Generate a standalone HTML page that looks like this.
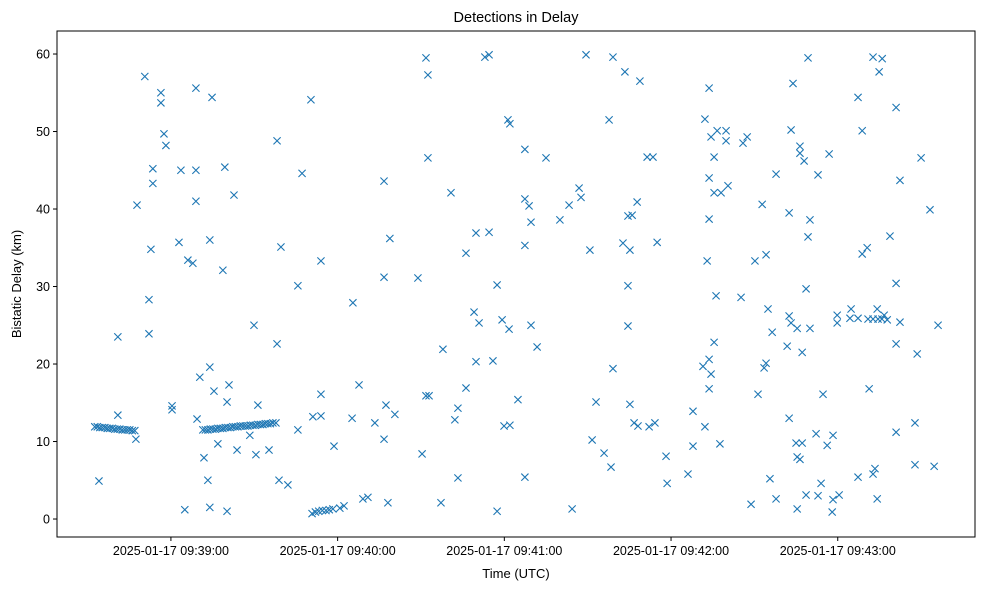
<!DOCTYPE html>
<html><head><meta charset="utf-8"><style>
body{margin:0;background:#fff;}
svg{display:block;font-family:"Liberation Sans","DejaVu Sans",sans-serif;}
</style></head><body>
<svg id="chart" width="990" height="590" xmlns="http://www.w3.org/2000/svg"></svg>
<script>
// seconds relative to 2025-01-17 09:39:00 UTC
const times = [
-27.4,-26.5,-25.6,-24.7,-23.8,-22.9,-22,-21.1,-20.2,-19.3,-18.4,-17.5,-16.6,-15.7,-14.8,-13.9,-13,
11.5,12.4,13.3,14.2,15.1,16,16.9,17.8,18.7,19.6,20.5,21.4,22.3,23.2,24.1,25,25.9,26.8,27.7,28.6,29.5,30.4,31.3,32.2,33.1,34,34.9,35.8,36.7,37.8,
50.8,52,53.2,54.5,55.8,57,58.3,60.8,
-9.4,-3.6,-3.6,9.0,14.8,-2.5,-1.8,-6.5,3.6,9.0,19.4,-6.5,22.7,9.0,-12.2,2.9,14.0,-7.2,6.1,7.9,18.7,-7.9,-19.1,-7.9,14.0,10.4,15.5,20.9,20.2,0.4,0.4,-19.1,9.4,-12.6,16.9,11.9,23.8,-25.9,13.3,5.0,14.0,20.2,
50.4,38.2,47.2,76.7,78.8,39.6,54.0,76.7,45.7,65.5,29.9,38.2,67.7,54.0,31.3,77.4,80.6,51.1,54.0,65.2,73.4,45.7,28.4,30.6,35.3,58.7,76.7,38.9,42.1,69.1,70.9,78.1,62.3,
91.8,113.0,114.5,92.5,121.3,122.0,127.4,135.0,92.5,100.8,127.4,128.9,143.3,129.6,140.0,109.8,114.5,127.4,106.2,88.9,117.4,109.1,110.9,119.2,121.7,129.6,97.9,131.8,109.8,115.9,106.2,124.9,91.8,92.9,103.3,102.2,119.9,122.0,90.4,103.3,127.4,97.2,117.4,144.4,
149.4,159.1,163.4,168.8,157.7,171.4,173.5,146.9,147.6,167.8,164.5,166.0,150.8,162.7,165.2,175.0,164.5,164.5,159.1,153.0,165.2,166.7,168.1,172.1,174.2,151.6,155.9,158.4,178.2,178.6,186.1,187.9,187.9,192.2,197.6,
193.7,192.2,194.4,196.6,199.8,199.8,195.5,193.7,195.5,198.0,200.5,193.7,193.0,196.2,195.5,193.7,191.5,194.4,193.7,
229.3,223.9,223.2,207.4,205.9,226.4,226.4,227.9,236.9,217.8,232.9,212.8,222.5,230.0,229.3,214.2,210.2,228.6,205.2,214.9,222.5,223.2,225.4,230.0,239.8,239.8,244.8,216.4,221.8,227.2,214.2,213.5,211.3,234.7,222.5,232.2,238.3,225.0,227.2,236.2,225.4,226.4,215.6,234.0,208.8,217.8,228.6,232.9,238.3,240.5,225.4,238.0,
252.7,256.0,254.9,247.3,261.0,248.8,270.0,262.4,273.2,258.8,250.6,248.8,261.0,254.2,
244.4,247.3,250.9,252.7,254.5,255.9,256.7,257.8,262.4,276.1,261.0,268.6,251.3,261.0,267.8,267.8,274.7,247.3,253.4,252.7,254.2
];
const delaysKm = [
11.9,11.9,11.8,11.8,11.8,11.7,11.7,11.7,11.6,11.6,11.6,11.5,11.5,11.5,11.5,11.4,11.4,
11.5,11.5,11.5,11.6,11.6,11.6,11.7,11.7,11.7,11.8,11.8,11.8,11.9,11.9,11.9,12.0,12.0,12.0,12.0,12.1,12.1,12.1,12.2,12.2,12.2,12.3,12.3,12.3,12.4,12.4,
0.7,0.9,1.0,1.1,1.1,1.2,1.3,1.4,
57.1,55.0,53.7,55.6,54.4,49.7,48.2,45.2,45.0,45.0,45.4,43.3,41.8,41.0,40.5,35.7,36.0,34.8,33.4,33.0,32.1,28.3,23.5,23.9,19.6,18.3,16.5,17.3,15.1,14.6,14.1,13.4,12.9,10.3,9.7,7.9,8.9,4.9,5.0,1.2,1.5,1.0,
54.1,48.8,44.6,43.6,36.2,35.1,33.3,31.2,30.1,27.9,25.0,22.6,17.3,16.1,14.7,14.7,13.5,13.2,13.3,13.0,12.4,11.5,10.8,8.3,8.9,9.4,10.3,5.0,4.4,2.6,2.8,2.1,1.7,
59.5,59.6,59.9,57.3,51.5,51.0,47.7,46.6,46.6,42.1,41.3,40.4,40.5,38.3,38.6,36.9,37.0,35.3,34.3,31.1,30.2,26.7,25.3,25.7,24.5,25.0,21.9,22.2,20.3,20.4,16.9,15.4,15.9,15.9,14.3,12.8,12.0,12.1,8.4,5.3,5.4,2.1,1.0,1.3,
59.9,59.6,57.7,56.5,51.5,46.7,46.7,42.7,41.5,40.9,39.1,39.2,34.7,35.6,34.7,35.7,30.1,24.9,19.4,15.1,14.8,12.4,12.0,11.9,12.4,10.2,8.5,6.7,8.1,4.6,5.8,13.9,9.4,11.9,9.7,
55.6,51.6,49.3,50.1,50.1,48.8,46.7,44.0,42.1,42.1,43.0,38.7,33.3,28.8,22.8,20.6,19.7,18.7,16.8,
59.5,56.2,50.2,49.3,48.5,48.1,47.2,46.2,47.1,44.5,44.4,40.6,39.5,38.6,36.4,34.1,33.3,29.7,28.6,27.1,26.2,25.3,24.6,24.6,26.3,25.3,27.1,24.1,22.3,21.5,20.1,19.5,16.1,16.1,13.0,11.0,10.8,9.8,9.8,9.5,8.0,7.7,5.2,4.6,1.9,2.6,3.1,3.0,2.5,3.1,1.3,0.9,
59.6,59.4,57.7,54.4,53.1,50.1,46.6,43.7,39.9,36.5,35.0,34.2,30.4,27.1,
25.9,25.9,25.8,25.8,25.8,25.8,26.3,25.7,25.4,25.0,22.6,21.3,16.8,11.2,12.4,7.0,6.8,5.4,6.5,5.8,2.6
];
const xTickSeconds = [0,60,120,180,240];
const xTickLabels = ["2025-01-17 09:39:00","2025-01-17 09:40:00","2025-01-17 09:41:00","2025-01-17 09:42:00","2025-01-17 09:43:00"];
const yTicks = [0,10,20,30,40,50,60];

const L=57,T=31,W=918,H=506;
const xMin=-41.0,xMax=289.4,yMin=-2.32,yMax=62.97;
const sx=v=>L+(v-xMin)/(xMax-xMin)*W;
const sy=v=>T+H-(v-yMin)/(yMax-yMin)*H;
const svg=document.getElementById('chart');
const NS='http://www.w3.org/2000/svg';
function mk(tag,attrs,parent){const e=document.createElementNS(NS,tag);for(const k in attrs)e.setAttribute(k,attrs[k]);(parent||svg).appendChild(e);return e;}

const title=mk('text',{x:L+W/2,y:22,'text-anchor':'middle','font-size':14.5,fill:'#000'});


title.textContent='Detections in Delay';

const pts=mk('g',{stroke:'#1f77b4','stroke-width':1.1,fill:'none'});


for(let i=0;i<times.length;i++){
  const cx=sx(times[i]),cy=sy(delaysKm[i]),r=3.6;
  const g=mk('path',{d:`M${cx-r},${cy-r}L${cx+r},${cy+r}M${cx-r},${cy+r}L${cx+r},${cy-r}`},pts);
  
  
}

const frame=mk('rect',{x:L,y:T,width:W,height:H,fill:'none',stroke:'#000','stroke-width':1});



xTickSeconds.forEach((s,i)=>{
  const x=sx(s);
  mk('line',{x1:x,y1:T+H,x2:x,y2:T+H+4,stroke:'#000'});
  const t=mk('text',{x:x,y:T+H+18,'text-anchor':'middle','font-size':12.5,fill:'#000'});
  
  
  t.textContent=xTickLabels[i];
});
yTicks.forEach(v=>{
  const y=sy(v);
  mk('line',{x1:L-4,y1:y,x2:L,y2:y,stroke:'#000'});
  const t=mk('text',{x:L-7,y:y+4.5,'text-anchor':'end','font-size':12.5,fill:'#000'});
  
  
  t.textContent=v;
});
const xl=mk('text',{x:L+W/2,y:578,'text-anchor':'middle','font-size':13,fill:'#000'});


xl.textContent='Time (UTC)';
const yl=mk('text',{x:0,y:0,'text-anchor':'middle','font-size':13,fill:'#000',transform:`translate(21,${T+H/2}) rotate(-90)`});


yl.textContent='Bistatic Delay (km)';
</script>
</body></html>
